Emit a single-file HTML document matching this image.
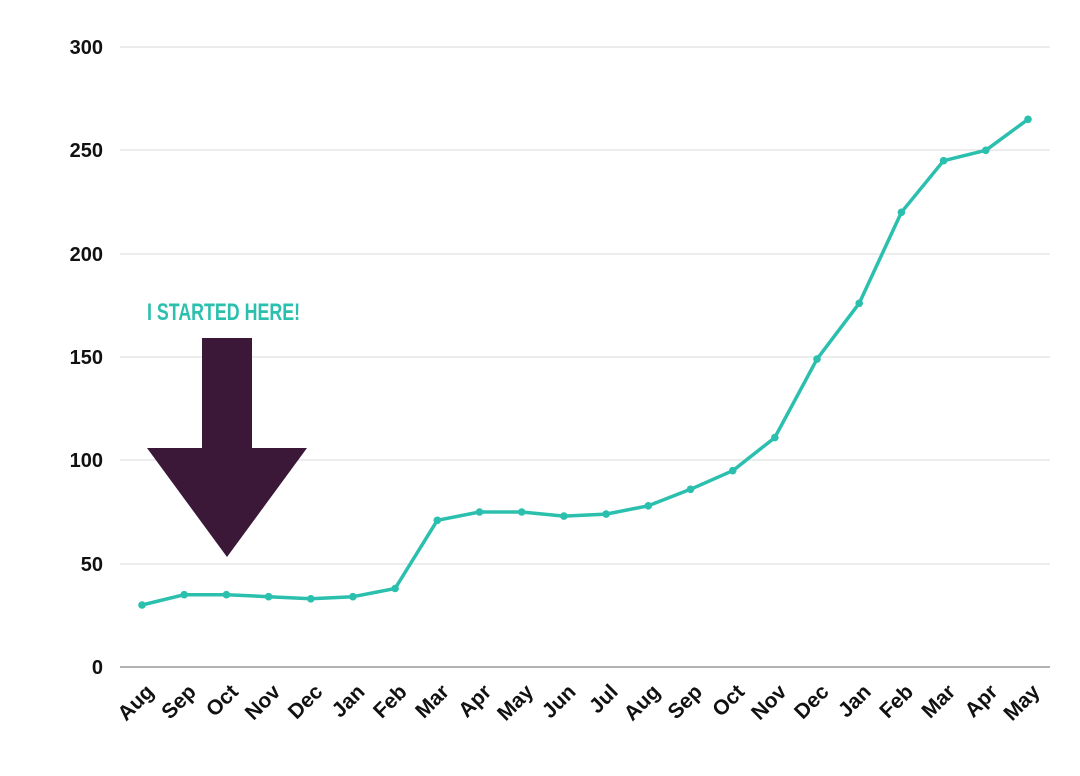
<!DOCTYPE html>
<html><head><meta charset="utf-8"><style>html,body{margin:0;padding:0;background:#fff}svg{display:block}</style></head>
<body>
<svg width="1080" height="776" viewBox="0 0 1080 776" xmlns="http://www.w3.org/2000/svg" font-family="Liberation Sans, sans-serif">
<g stroke="#d9d9d9" stroke-width="1">
<line x1="120" y1="47" x2="1050" y2="47"/><line x1="120" y1="150" x2="1050" y2="150"/><line x1="120" y1="254" x2="1050" y2="254"/><line x1="120" y1="357" x2="1050" y2="357"/><line x1="120" y1="460" x2="1050" y2="460"/><line x1="120" y1="564" x2="1050" y2="564"/>
</g>
<line x1="120" y1="667" x2="1050" y2="667" stroke="#999" stroke-width="1.5"/>
<g font-size="20" font-weight="bold" fill="#111" text-anchor="end">
<text x="103" y="54">300</text><text x="103" y="157">250</text><text x="103" y="261">200</text><text x="103" y="364">150</text><text x="103" y="467">100</text><text x="103" y="571">50</text><text x="103" y="674">0</text>
</g>
<g font-size="21" font-weight="bold" fill="#111" text-anchor="end">
<text x="155" y="693" transform="rotate(-45 155 693)">Aug</text>
<text x="197.2" y="693" transform="rotate(-45 197.2 693)">Sep</text>
<text x="239.4" y="693" transform="rotate(-45 239.4 693)">Oct</text>
<text x="281.6" y="693" transform="rotate(-45 281.6 693)">Nov</text>
<text x="323.8" y="693" transform="rotate(-45 323.8 693)">Dec</text>
<text x="365.9" y="693" transform="rotate(-45 365.9 693)">Jan</text>
<text x="408.1" y="693" transform="rotate(-45 408.1 693)">Feb</text>
<text x="450.3" y="693" transform="rotate(-45 450.3 693)">Mar</text>
<text x="492.5" y="693" transform="rotate(-45 492.5 693)">Apr</text>
<text x="534.7" y="693" transform="rotate(-45 534.7 693)">May</text>
<text x="576.9" y="693" transform="rotate(-45 576.9 693)">Jun</text>
<text x="619.1" y="693" transform="rotate(-45 619.1 693)">Jul</text>
<text x="661.3" y="693" transform="rotate(-45 661.3 693)">Aug</text>
<text x="703.5" y="693" transform="rotate(-45 703.5 693)">Sep</text>
<text x="745.7" y="693" transform="rotate(-45 745.7 693)">Oct</text>
<text x="787.8" y="693" transform="rotate(-45 787.8 693)">Nov</text>
<text x="830" y="693" transform="rotate(-45 830 693)">Dec</text>
<text x="872.2" y="693" transform="rotate(-45 872.2 693)">Jan</text>
<text x="914.4" y="693" transform="rotate(-45 914.4 693)">Feb</text>
<text x="956.6" y="693" transform="rotate(-45 956.6 693)">Mar</text>
<text x="998.8" y="693" transform="rotate(-45 998.8 693)">Apr</text>
<text x="1041" y="693" transform="rotate(-45 1041 693)">May</text>
</g>
<polyline fill="none" stroke="#2bbfae" stroke-width="3.5" stroke-linejoin="round" points="142,605 184.2,594.7 226.4,594.7 268.6,596.7 310.8,598.8 352.9,596.7 395.1,588.5 437.3,520.3 479.5,512 521.7,512 563.9,516.1 606.1,514.1 648.3,505.8 690.5,489.3 732.7,470.7 774.8,437.6 817,359.1 859.2,303.3 901.4,212.3 943.6,160.7 985.8,150.3 1028,119.3"/>
<g fill="#2bbfae">
<circle cx="142" cy="605" r="3.8"/><circle cx="184.2" cy="594.7" r="3.8"/><circle cx="226.4" cy="594.7" r="3.8"/><circle cx="268.6" cy="596.7" r="3.8"/><circle cx="310.8" cy="598.8" r="3.8"/><circle cx="352.9" cy="596.7" r="3.8"/><circle cx="395.1" cy="588.5" r="3.8"/><circle cx="437.3" cy="520.3" r="3.8"/><circle cx="479.5" cy="512" r="3.8"/><circle cx="521.7" cy="512" r="3.8"/><circle cx="563.9" cy="516.1" r="3.8"/><circle cx="606.1" cy="514.1" r="3.8"/><circle cx="648.3" cy="505.8" r="3.8"/><circle cx="690.5" cy="489.3" r="3.8"/><circle cx="732.7" cy="470.7" r="3.8"/><circle cx="774.8" cy="437.6" r="3.8"/><circle cx="817" cy="359.1" r="3.8"/><circle cx="859.2" cy="303.3" r="3.8"/><circle cx="901.4" cy="212.3" r="3.8"/><circle cx="943.6" cy="160.7" r="3.8"/><circle cx="985.8" cy="150.3" r="3.8"/><circle cx="1028" cy="119.3" r="3.8"/>
</g>
<rect x="202" y="338" width="50" height="111" fill="#3b1838"/>
<polygon points="147,448 307,448 227,557" fill="#3b1838"/>
<text x="147" y="320" font-family="Liberation Sans Narrow, Liberation Sans, sans-serif" font-weight="bold" font-size="24" fill="#2bbfae" textLength="153" lengthAdjust="spacingAndGlyphs">I STARTED HERE!</text>
</svg>
</body></html>
